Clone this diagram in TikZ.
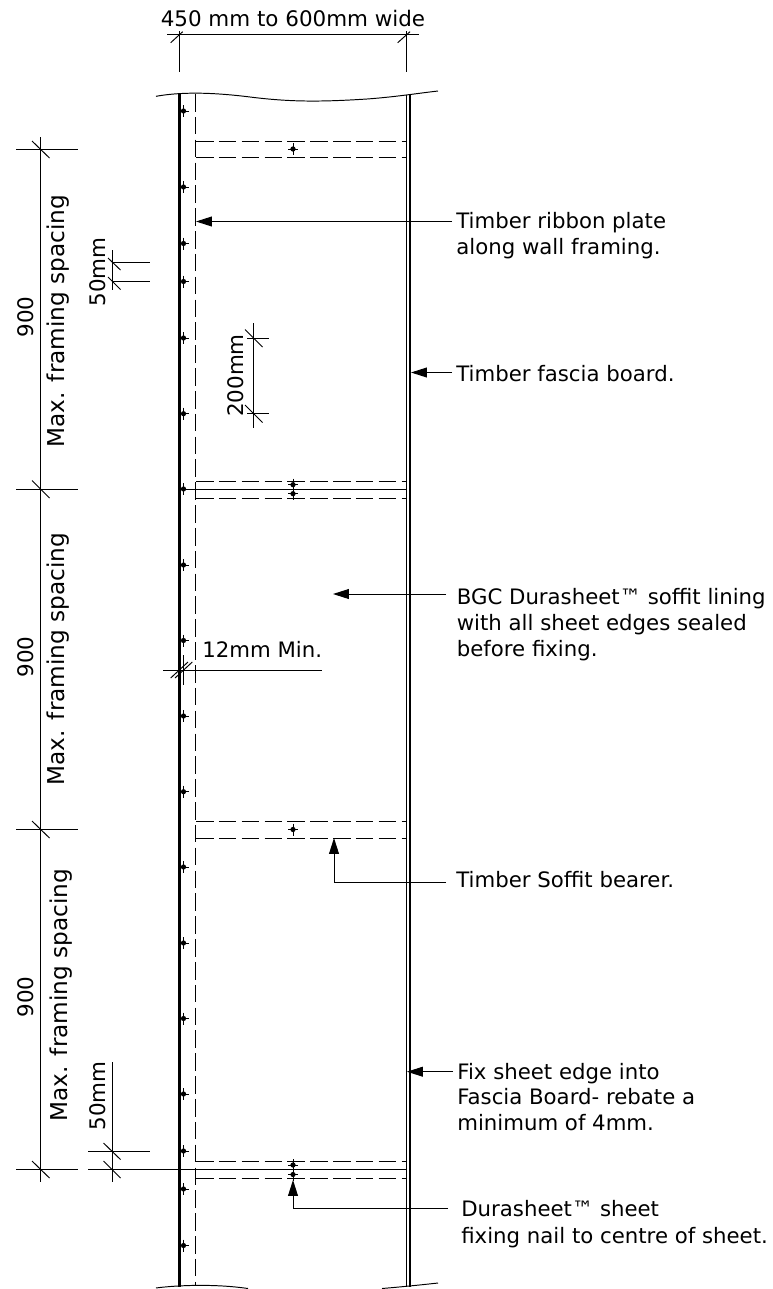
\documentclass[tikz,border=0pt]{standalone}
\usepackage{fontspec}
\setmainfont{DejaVu Sans}
\usetikzlibrary{arrows.meta}
\tikzset{
  label text/.style={anchor=base west, align=left, inner sep=0pt, font=\fontsize{12.1}{14.4}\selectfont},
  side text/.style={anchor=base, rotate=90, inner sep=0pt, font=\fontsize{12.2}{14.4}\selectfont},
  max text/.style={side text, font=\fontsize{13.2}{15}\selectfont},
  dim line/.style={line width=0.55pt},
  hidden line/.style={line width=0.55pt, dash pattern=on 10pt off 3pt},
  leader/.style={line width=0.55pt, -{Triangle[length=9pt, width=5.6pt]}},
  nail/.pic={
    \fill (0,0) circle [radius=1.5pt];
    \draw [line width=0.4pt] (-5,0) -- (5,0) (0,-6) -- (0,6);
  }
}
\begin{document}
\begin{tikzpicture}[x=0.02cm, y=-0.02cm]
    \useasboundingbox (0,0) rectangle (772,1289);
    \draw [line width=1.5pt] (179.5,94) -- (179.5,1287);
    \draw [hidden line] (195.5,94) -- (195.5,1285);
    \draw [line width=0.6pt] (406.7,95) -- (406.7,1287);
    \draw [line width=0.9pt] (410.2,95) -- (410.2,1287);
    \draw [dim line] (156,96.3) .. controls (180,92) and (210,92) .. (250,97)
      .. controls (290,102) and (320,102) .. (367,99)
      .. controls (395,97) and (420,93) .. (438,91);
    \draw [dim line] (156,1288) .. controls (170,1286) and (210,1283) .. (248,1288.5);
    \draw [dim line] (382,1288.5) .. controls (400,1287) and (420,1285) .. (438,1283);
    \draw [hidden line] (196,141) -- (407,141);
    \draw [hidden line] (196,157) -- (407,157);
    \draw [hidden line] (196,481) -- (407,481);
    \draw [hidden line] (196,498) -- (407,498);
    \draw [hidden line] (196,821) -- (407,821);
    \draw [hidden line] (196,838) -- (407,838);
    \draw [hidden line] (196,1161) -- (407,1161);
    \draw [hidden line] (196,1178) -- (407,1178);
    \draw [dim line] (179,489) -- (407,489);
    \draw [line width=1.1pt] (179,1169.5) -- (407,1169.5);
    \path (183.5,111) pic {nail}
          (183.5,187) pic {nail}
          (183.5,243.5) pic {nail}
          (183.5,281.5) pic {nail}
          (183.5,338) pic {nail}
          (183.5,413.7) pic {nail}
          (183.5,489) pic {nail}
          (183.5,565) pic {nail}
          (183.5,640.5) pic {nail}
          (183.5,716) pic {nail}
          (183.5,791.7) pic {nail}
          (183.5,867) pic {nail}
          (183.5,943) pic {nail}
          (183.5,1018.5) pic {nail}
          (183.5,1094) pic {nail}
          (183.5,1151) pic {nail}
          (183.5,1189) pic {nail}
          (183.5,1245.5) pic {nail}
          (293,149) pic {nail}
          (293,484.7) pic {nail}
          (293,493.7) pic {nail}
          (293,829.5) pic {nail}
          (293,1165) pic {nail}
          (293,1174.5) pic {nail};
    \draw [dim line] (167,34.3) -- (418.7,34.3);
    \draw [dim line] (179.3,31) -- (179.3,72);
    \draw [dim line] (406.3,31) -- (406.3,72);
    \draw [dim line] (170.7,42.7) -- (182.7,31.7);
    \draw [dim line] (397.7,42.7) -- (410,31.7);
    \node [anchor=base, inner sep=0pt, font=\fontsize{12.2}{14.4}\selectfont] (widthtext) at (293,26.3) {450 mm to 600mm wide};
    \draw [dim line] (40.5,137) -- (40.5,1182);
    \draw [dim line] (16,149) -- (78,149);
    \draw [dim line] (16,489) -- (78,489);
    \draw [dim line] (16,829.5) -- (78,829.5);
    \draw [dim line] (16,1169.5) -- (78,1169.5);
    \draw [dim line] (32,141) -- (49.5,158);
    \draw [dim line] (32,480.5) -- (49.5,498);
    \draw [dim line] (32,821) -- (49.5,838);
    \draw [dim line] (32,1161) -- (49.5,1178);
    \node [side text] (spantexta) at (33,317) {900};
    \node [side text] (spantextb) at (33,657) {900};
    \node [side text] (spantextc) at (33,997) {900};
    \node [max text] (maxtexta) at (64,321) {Max. framing spacing};
    \node [max text] (maxtextb) at (64,659) {Max. framing spacing};
    \node [max text] (maxtextc) at (67,995) {Max. framing spacing};
    \draw [dim line] (112,250) -- (112,290);
    \draw [dim line] (112,262.5) -- (150,262.5);
    \draw [dim line] (112,281.5) -- (150,281.5);
    \draw [dim line] (108,258) -- (120.5,270);
    \draw [dim line] (108,277) -- (120.5,289.5);
    \node [side text] (gaptexta) at (105,272) {50mm};
    \draw [dim line] (253.5,323) -- (253.5,428);
    \draw [dim line] (247,338) -- (269,338);
    \draw [dim line] (247,413.7) -- (269,413.7);
    \draw [dim line] (245,329.5) -- (262.5,347);
    \draw [dim line] (245,405) -- (262.5,422.5);
    \node [side text] (pitchtext) at (243,375.5) {200mm};
    \draw [dim line] (112,1062) -- (112,1182);
    \draw [dim line] (88,1151) -- (150,1151);
    \draw [dim line] (88,1169.5) -- (179,1169.5);
    \draw [dim line] (103.5,1143) -- (120.5,1159.5);
    \draw [dim line] (103.5,1161) -- (120.5,1178);
    \node [side text] (gaptextb) at (105,1096) {50mm};
    \draw [dim line] (163,670) -- (322,670);
    \draw [dim line] (183.5,655) -- (183.5,685);
    \draw [dim line] (170.7,678) -- (188,662);
    \draw [dim line] (175,678) -- (192.3,662);
    \node [label text] (edgetext) at (202,657.7) {12mm Min.};
    \node [label text] (ribbontext) at (456,254) {Timber ribbon plate\\along wall framing.};
    \node [label text] (fasciatext) at (456,381) {Timber fascia board.};
    \node [label text, font=\fontsize{12.1}{14.7}\selectfont] (liningtext) at (456.5,656) {BGC Durasheet™ soffit lining\\with all sheet edges sealed\\before fixing.};
    \node [label text] (bearertext) at (456,887) {Timber Soffit bearer.};
    \node [label text, font=\fontsize{12.1}{14.7}\selectfont] (edgefixtext) at (457,1130.7) {Fix sheet edge into\\Fascia Board- rebate a\\minimum of 4mm.};
    \node [label text, font=\fontsize{12.1}{15.3}\selectfont] (nailtext) at (461,1243) {Durasheet™ sheet\\fixing nail to centre of sheet.};
    \coordinate (ribbonfrom) at (452,221.5);
    \coordinate (ribbontip) at (196,221.5);
    \coordinate (fasciafrom) at (452,372.5);
    \coordinate (fasciatip) at (411,372.5);
    \coordinate (liningfrom) at (446,594);
    \coordinate (liningtip) at (333,594);
    \coordinate (bearerfrom) at (446,882.7);
    \coordinate (bearerbend) at (334,882.7);
    \coordinate (bearertip) at (334,838);
    \coordinate (edgefixfrom) at (453,1071.7);
    \coordinate (edgefixtip) at (407,1071.7);
    \coordinate (nailfrom) at (448,1208);
    \coordinate (nailbend) at (293,1208);
    \coordinate (nailtip) at (293,1180);
    \draw [leader] (ribbonfrom) -- (ribbontip);
    \draw [leader] (fasciafrom) -- (fasciatip);
    \draw [leader] (liningfrom) -- (liningtip);
    \draw [leader] (bearerfrom) -- (bearerbend) -- (bearertip);
    \draw [leader] (edgefixfrom) -- (edgefixtip);
    \draw [leader] (nailfrom) -- (nailbend) -- (nailtip);
  \end{tikzpicture}
\end{document}
